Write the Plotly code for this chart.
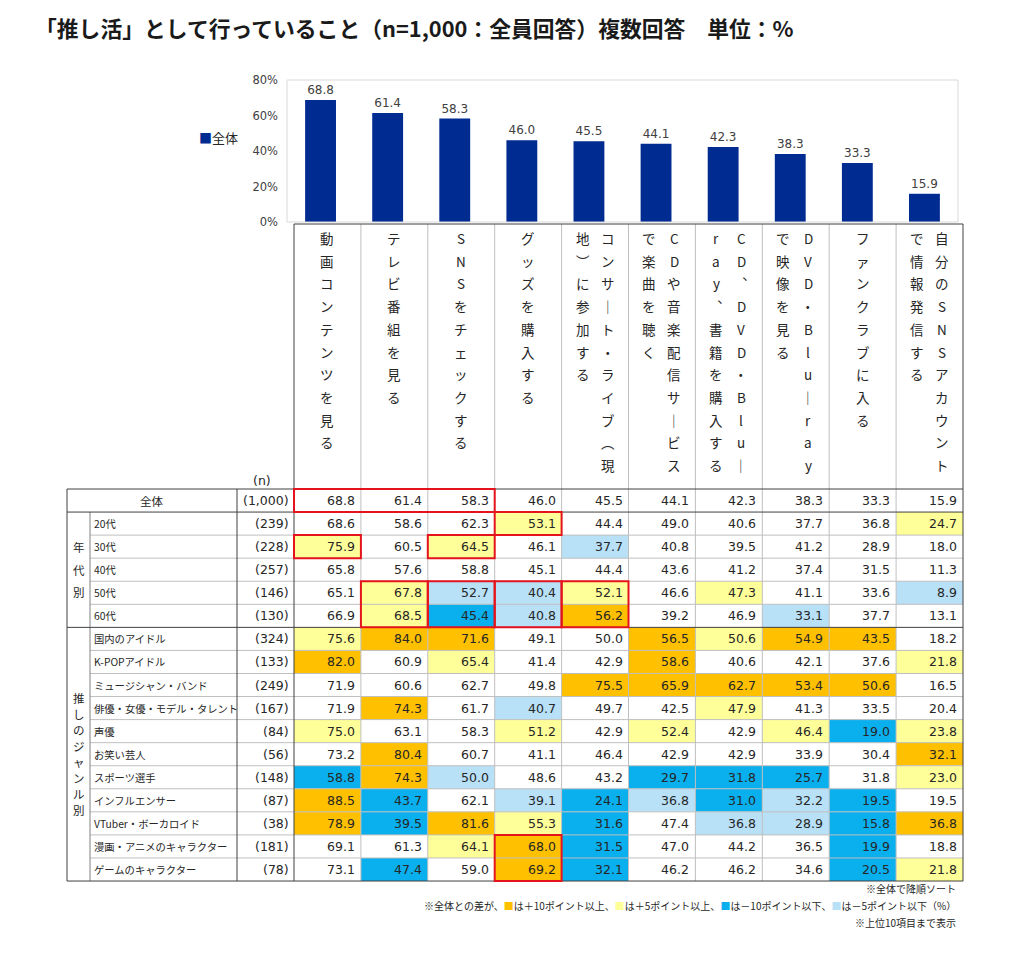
import plotly.graph_objects as go

# ---------------- data ----------------
title_text = "「推し活」として行っていること（n=1,000：全員回答）複数回答　単位：%"
items = ["動画コンテンツを見る", "テレビ番組を見る", "SNSをチェックする", "グッズを購入する",
         "コンサート・ライブ（現地）に参加する", "CDや音楽配信サービスで楽曲を聴く",
         "CD、DVD・Blu-ray、書籍を購入する", "DVD・Blu-rayで映像を見る",
         "ファンクラブに入る", "自分のSNSアカウントで情報発信する"]
overall = [68.8, 61.4, 58.3, 46.0, 45.5, 44.1, 42.3, 38.3, 33.3, 15.9]
overall_label = "全体"
overall_n = "1,000"

age_group = "年代別"
age_labels = ["20代", "30代", "40代", "50代", "60代"]
age_n = [239, 228, 257, 146, 130]
age_values = [
    [68.6, 58.6, 62.3, 53.1, 44.4, 49.0, 40.6, 37.7, 36.8, 24.7],
    [75.9, 60.5, 64.5, 46.1, 37.7, 40.8, 39.5, 41.2, 28.9, 18.0],
    [65.8, 57.6, 58.8, 45.1, 44.4, 43.6, 41.2, 37.4, 31.5, 11.3],
    [65.1, 67.8, 52.7, 40.4, 52.1, 46.6, 47.3, 41.1, 33.6, 8.9],
    [66.9, 68.5, 45.4, 40.8, 56.2, 39.2, 46.9, 33.1, 37.7, 13.1],
]

genre_group = "推しのジャンル別"
genre_labels = ["国内のアイドル", "K-POPアイドル", "ミュージシャン・バンド", "俳優・女優・モデル・タレント",
                "声優", "お笑い芸人", "スポーツ選手", "インフルエンサー", "VTuber・ボーカロイド",
                "漫画・アニメのキャラクター", "ゲームのキャラクター"]
genre_n = [324, 133, 249, 167, 84, 56, 148, 87, 38, 181, 78]
genre_values = [
    [75.6, 84.0, 71.6, 49.1, 50.0, 56.5, 50.6, 54.9, 43.5, 18.2],
    [82.0, 60.9, 65.4, 41.4, 42.9, 58.6, 40.6, 42.1, 37.6, 21.8],
    [71.9, 60.6, 62.7, 49.8, 75.5, 65.9, 62.7, 53.4, 50.6, 16.5],
    [71.9, 74.3, 61.7, 40.7, 49.7, 42.5, 47.9, 41.3, 33.5, 20.4],
    [75.0, 63.1, 58.3, 51.2, 42.9, 52.4, 42.9, 46.4, 19.0, 23.8],
    [73.2, 80.4, 60.7, 41.1, 46.4, 42.9, 42.9, 33.9, 30.4, 32.1],
    [58.8, 74.3, 50.0, 48.6, 43.2, 29.7, 31.8, 25.7, 31.8, 23.0],
    [88.5, 43.7, 62.1, 39.1, 24.1, 36.8, 31.0, 32.2, 19.5, 19.5],
    [78.9, 39.5, 81.6, 55.3, 31.6, 47.4, 36.8, 28.9, 15.8, 36.8],
    [69.1, 61.3, 64.1, 68.0, 31.5, 47.0, 44.2, 36.5, 19.9, 18.8],
    [73.1, 47.4, 59.0, 69.2, 32.1, 46.2, 46.2, 34.6, 20.5, 21.8],
]

# red-outlined highlight blocks: (first_row, last_row, first_col, last_col); row 0 = 全体
highlights = [(0, 0, 0, 2), (1, 1, 3, 3), (2, 2, 0, 0), (2, 2, 2, 2),
              (4, 5, 1, 1), (4, 5, 2, 2), (4, 5, 3, 3), (4, 5, 4, 4), (15, 16, 3, 3)]

y_ticks = [0, 20, 40, 60, 80]
y_tick_text = ["0%", "20%", "40%", "60%", "80%"]
notes = ["※全体で降順ソート",
         "※全体との差が、{o}は＋10ポイント以上、{y}は＋5ポイント以上、{b}は－10ポイント以下、{l}は－5ポイント以下（%）",
         "※上位10項目まで表示"]

# ---------------- styles ----------------
BAR = "#002B91"
ORANGE = "#FFC000"
YELLOW = "#FFFF99"
DBLUE = "#0AAFEE"
LBLUE = "#B8E0F7"
RED = "#E5141C"
JP = "Noto Sans CJK JP"
NUM = "DejaVu Sans"
TXT = "#262626"

W, H, OFF = 1007, 942, 8


def px(x):
    return (x - OFF) / W


def py(y):
    return 1 - (y - OFF) / H


shapes = []
ann = []


def line(x0, y0, x1, y1, color, width=1):
    shapes.append(dict(type="line", xref="paper", yref="paper", x0=px(x0), y0=py(y0),
                       x1=px(x1), y1=py(y1), line=dict(color=color, width=width)))


def rect(x0, y0, x1, y1, fill=None, color=None, width=0):
    d = dict(type="rect", xref="paper", yref="paper", x0=px(x0), y0=py(y0), x1=px(x1), y1=py(y1),
             line=dict(width=width, color=color or "rgba(0,0,0,0)"))
    if fill:
        d["fillcolor"] = fill
    shapes.append(d)


def text(x, y, s, size=12, family=JP, xanchor="center", color=TXT, bold=False):
    ann.append(dict(xref="paper", yref="paper", x=px(x), y=py(y), text=("<b>%s</b>" % s) if bold else s,
                    showarrow=False, xanchor=xanchor, yanchor="middle",
                    font=dict(size=size, family=family, color=color)))


# ---------------- geometry (reference pixels) ----------------
T_LEFT, G_RIGHT, L_RIGHT, N_RIGHT, T_RIGHT = 67, 90, 237, 294, 963
CW = (T_RIGHT - N_RIGHT) / 10
H_TOP, R_TOP, RH = 224, 489, 23.06
NROWS = 1 + len(age_labels) + len(genre_labels)


def col_x(c):
    return N_RIGHT + c * CW


def row_y(r):
    return R_TOP + r * RH


def cell_color(v, base):
    d = round(v - base, 1)
    if d >= 10:
        return ORANGE
    if d >= 5:
        return YELLOW
    if d <= -10:
        return DBLUE
    if d <= -5:
        return LBLUE
    return None


all_rows = [overall] + age_values + genre_values
all_n = [overall_n] + [str(n) for n in age_n] + [str(n) for n in genre_n]

# fills
for r, vals in enumerate(all_rows):
    for c, v in enumerate(vals):
        colr = cell_color(v, overall[c]) if r > 0 else None
        if colr:
            rect(col_x(c), row_y(r), col_x(c + 1), row_y(r + 1), fill=colr)

# grid lines
GRAY = "#BFBFBF"
DARK = "#404040"
for r in range(1, NROWS):
    if r in (1, 1 + len(age_labels)):
        continue
    line(G_RIGHT, row_y(r), T_RIGHT, row_y(r), GRAY)
for c in range(1, 10):
    line(col_x(c), H_TOP, col_x(c), row_y(NROWS), GRAY)
line(G_RIGHT, row_y(1), G_RIGHT, row_y(NROWS), "#808080")
line(L_RIGHT, R_TOP, L_RIGHT, row_y(NROWS), DARK)
line(N_RIGHT, H_TOP, N_RIGHT, row_y(NROWS), DARK)
line(T_RIGHT, H_TOP, T_RIGHT, row_y(NROWS), DARK)
line(T_LEFT, R_TOP, T_LEFT, row_y(NROWS), DARK)
line(N_RIGHT, H_TOP, T_RIGHT, H_TOP, DARK)
for r in (0, 1, 1 + len(age_labels), NROWS):
    line(T_LEFT, row_y(r), T_RIGHT, row_y(r), DARK)

# red highlight frames
for (r0, r1, c0, c1) in highlights:
    rect(col_x(c0), row_y(r0), col_x(c1 + 1), row_y(r1 + 1), color=RED, width=2)

# plot-area frame of bar chart
rect(287, 80, 958, 222, color="#D9D9D9", width=1)

# cell values
for r, vals in enumerate(all_rows):
    yc = (row_y(r) + row_y(r + 1)) / 2
    for c, v in enumerate(vals):
        text(col_x(c + 1) - 4, yc, "%.1f" % v, size=12.5, family=NUM, xanchor="right")
    text(N_RIGHT - 3, yc, "(%s)" % all_n[r], size=12.5, family=NUM, xanchor="right")

# row labels
text((T_LEFT + L_RIGHT) / 2, (row_y(0) + row_y(1)) / 2, overall_label, size=11.5)
for i, lab in enumerate(age_labels + genre_labels):
    r = 1 + i
    text(G_RIGHT + 2, (row_y(r) + row_y(r + 1)) / 2, lab, size=10.3, xanchor="left")

# group labels (vertical)
for group, r0, r1, step in ((age_group, 1, 1 + len(age_labels), 22.5),
                            (genre_group, 1 + len(age_labels), NROWS, 16)):
    yc = (row_y(r0) + row_y(r1)) / 2
    n = len(group)
    for k, ch in enumerate(group):
        text(78.5, yc + (k - (n - 1) / 2) * step, ch, size=11.5)

# header (vertical writing)
VMAP = {"ー": "｜", "-": "｜", "（": "︵", "）": "︶", "、": "︑"}
for c, item in enumerate(items):
    chunks = [item[i:i + 11] for i in range(0, len(item), 11)]
    cx = col_x(c) + CW / 2
    ncol = len(chunks)
    for j, chunk in enumerate(chunks):
        x = cx + ((ncol - 1) / 2 - j) * 25 if ncol > 1 else cx
        for k, ch in enumerate(chunk):
            text(x, 238 + k * 22.7, VMAP.get(ch, ch), size=13.5)
text(262, 480, "(n)", size=12.5, family=NUM)

# legend
text(197, 138, "<span style='color:%s'>■</span>%s" % (BAR, overall_label), size=13, xanchor="left")

# title
text(33, 28, title_text, size=21.8, xanchor="left", bold=True, color="#1a1a1a")

# footnotes
sq = lambda col: "<span style='color:%s'>■</span>" % col
note2 = notes[1].format(o=sq(ORANGE), y=sq(YELLOW), b=sq(DBLUE), l=sq(LBLUE))
for s, y in zip([notes[0], note2, notes[2]], [888, 905, 922]):
    text(958, y, s, size=10, xanchor="right")

# ---------------- bar chart ----------------
fig = go.Figure(go.Bar(
    x=items, y=overall, marker=dict(color=BAR, line=dict(width=0)), width=0.46,
    text=["%.1f" % v for v in overall], textposition="outside", cliponaxis=False,
    textfont=dict(size=12, family=NUM, color="#404040"), showlegend=False,
))

fig.update_layout(
    width=W, height=H, margin=dict(l=0, r=0, t=0, b=0, autoexpand=False),
    paper_bgcolor="white", plot_bgcolor="white", showlegend=False,
    xaxis=dict(domain=[px(287), px(958)], showticklabels=False, showgrid=False, zeroline=False,
               showline=False, ticks="", automargin=False),
    yaxis=dict(domain=[py(222), py(80)], range=[0, 80], tickmode="array", tickvals=y_ticks,
               ticktext=y_tick_text, showgrid=False, zeroline=False, showline=False, ticks="",
               ticklabelstandoff=8, automargin=False,
               tickfont=dict(size=11.5, family=NUM, color="#404040")),
    shapes=shapes, annotations=ann,
)

fig.write_html("out.html")
